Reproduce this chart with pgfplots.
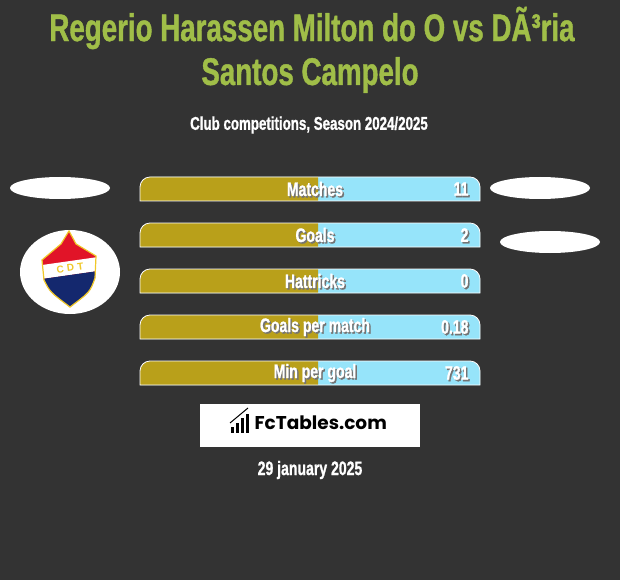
\documentclass[border=0pt]{standalone}
\usepackage{pgfplots}
\usepackage{pgfplotstable}
\pgfplotsset{compat=1.18}
\usepackage{fontspec}
\setmainfont{Liberation Sans}
\newfontfamily\cond{Liberation Sans}[FakeStretch=0.72, FakeBold=1]
\newfontfamily\logofont{Poppins}

\definecolor{bg}{RGB}{51,51,51}
\definecolor{titlegreen}{RGB}{160,190,72}
\definecolor{gold}{RGB}{185,160,26}
\definecolor{sky}{RGB}{150,228,250}
\definecolor{navy}{RGB}{20,40,110}
\definecolor{crest}{RGB}{225,20,40}
\definecolor{crestgold}{RGB}{240,200,40}

% bar rows: y = pixel centre, split = end of the gold part, end = end of the blue part
\pgfplotstableread{
y    split end
189  318   480
235  318   480
281  318   480
327  318   480
373  318   480
}\bars

% caption and value of one bar, with a soft shadow
\newcommand\barlabel[3]{%
  \node[text=black!55, font=\cond\bfseries\fontsize{19.5}{19.5}\selectfont, shift={(1.5pt,-1.5pt)}] at (axis cs:315,#1) {#2};
  \node[text=white, font=\cond\bfseries\fontsize{19.5}{19.5}\selectfont] at (axis cs:315,#1) {#2};
  \node[text=black!55, font=\cond\bfseries\fontsize{19.5}{19.5}\selectfont, anchor=east, shift={(1.5pt,-1.5pt)}] at (axis cs:472,#1) {#3};
  \node[text=white, font=\cond\bfseries\fontsize{19.5}{19.5}\selectfont, anchor=east] at (axis cs:472,#1) {#3};
}

\begin{document}
\begin{tikzpicture}
\fill[bg] (0,0) rectangle (620pt,580pt);
\useasboundingbox (0,0) rectangle (620pt,580pt);
\begin{axis}[
  at={(0,0)}, anchor=south west,
  width=620pt, height=580pt, scale only axis,
  xmin=0, xmax=620, ymin=0, ymax=580, y dir=reverse,
  hide axis, clip=false,
]
\addplot[xbar, bar width=24, draw=none, fill=sky] table[x=end, y=y] {\bars};
\addplot[xbar, bar width=24, draw=none, fill=gold] table[x=split, y=y] {\bars};

% cover bars left of the start
\fill[bg] (axis cs:0,170) rectangle (axis cs:140,395);

% rounded tops and white rims
\pgfplotsinvokeforeach{189,235,281,327,373}{
  \fill[bg] (axis cs:139,#1-13) -- (axis cs:150,#1-13) -- (axis cs:150,#1-12)
    .. controls (axis cs:144.5,#1-12) and (axis cs:140,#1-7.5) .. (axis cs:140,#1-2)
    -- (axis cs:139,#1-2) -- cycle;
  \fill[bg] (axis cs:481,#1-13) -- (axis cs:470,#1-13) -- (axis cs:470,#1-12)
    .. controls (axis cs:475.5,#1-12) and (axis cs:480,#1-7.5) .. (axis cs:480,#1-2)
    -- (axis cs:481,#1-2) -- cycle;
  \draw[white, line width=0.8pt] (axis cs:140,#1+12) -- (axis cs:140,#1-2)
    .. controls (axis cs:140,#1-7.5) and (axis cs:144.5,#1-12) .. (axis cs:150,#1-12)
    -- (axis cs:470,#1-12)
    .. controls (axis cs:475.5,#1-12) and (axis cs:480,#1-7.5) .. (axis cs:480,#1-2)
    -- (axis cs:480,#1+12) -- cycle;
}

\barlabel{189}{Matches}{11}
\barlabel{235}{Goals}{2}
\barlabel{281}{Hattricks}{0}
\barlabel{327}{Goals per match}{0.18}
\barlabel{373}{Min per goal}{731}

% titles
\node[text=titlegreen, font=\cond\bfseries\fontsize{38.5}{38.5}\selectfont] at (axis cs:312,28) {Regerio Harassen Milton do O vs DÃ³ria};
\node[text=titlegreen, font=\cond\bfseries\fontsize{38.5}{38.5}\selectfont] at (axis cs:310,75) {Santos Campelo};
\node[text=white, font=\cond\bfseries\fontsize{18.5}{18.5}\selectfont] at (axis cs:309,125) {Club competitions, Season 2024/2025};

% player placeholders
\fill[white] (axis cs:60,188) ellipse [x radius=50pt, y radius=11pt];
\fill[white] (axis cs:540,188) ellipse [x radius=50pt, y radius=11pt];
\fill[white] (axis cs:550,242) ellipse [x radius=50pt, y radius=11pt];

% club crest
\fill[white] (axis cs:70,272) ellipse [x radius=50pt, y radius=42pt];
\begin{scope}
  \clip (axis cs:69,231) -- (axis cs:76,244) -- (axis cs:96,256)
    -- (axis cs:95,278) .. controls (axis cs:90,292) .. (axis cs:70,307)
    .. controls (axis cs:50,292) .. (axis cs:44,280) -- (axis cs:42,260)
    -- (axis cs:61,244) -- cycle;
  \fill[crest] (axis cs:35,225) rectangle (axis cs:105,310);
  \fill[white] (axis cs:35,266) -- (axis cs:105,256) -- (axis cs:105,270) -- (axis cs:35,280) -- cycle;
  \fill[navy] (axis cs:35,280) -- (axis cs:105,270) -- (axis cs:105,312) -- (axis cs:35,312) -- cycle;
\end{scope}
\draw[crestgold, line width=1.2pt] (axis cs:69,231) -- (axis cs:76,244) -- (axis cs:96,256)
    -- (axis cs:95,278) .. controls (axis cs:90,292) .. (axis cs:70,307)
    .. controls (axis cs:50,292) .. (axis cs:44,280) -- (axis cs:42,260)
    -- (axis cs:61,244) -- cycle;
\node[text=crestgold, font=\bfseries\fontsize{10}{10}\selectfont, rotate=8] at (axis cs:70,268) {C\,\,D\,\,T};

% FcTables badge
\fill[white] (axis cs:200,404) rectangle (axis cs:420,447);
\fill[black] (axis cs:231,433) rectangle (axis cs:234,427);
\fill[black] (axis cs:236,433) rectangle (axis cs:239,423);
\fill[black] (axis cs:241,433) rectangle (axis cs:244,418);
\fill[black] (axis cs:246,433) rectangle (axis cs:249,414);
\draw[black, line width=1pt] (axis cs:230,423) -- (axis cs:248,408);
\node[text=black, font=\logofont\bfseries\fontsize{18.5}{18.5}\selectfont, anchor=west] at (axis cs:251,423) {FcTables.com};

% date
\node[text=white, font=\cond\bfseries\fontsize{19.5}{19.5}\selectfont] at (axis cs:310,470) {29 january 2025};
\end{axis}
\end{tikzpicture}
\end{document}
